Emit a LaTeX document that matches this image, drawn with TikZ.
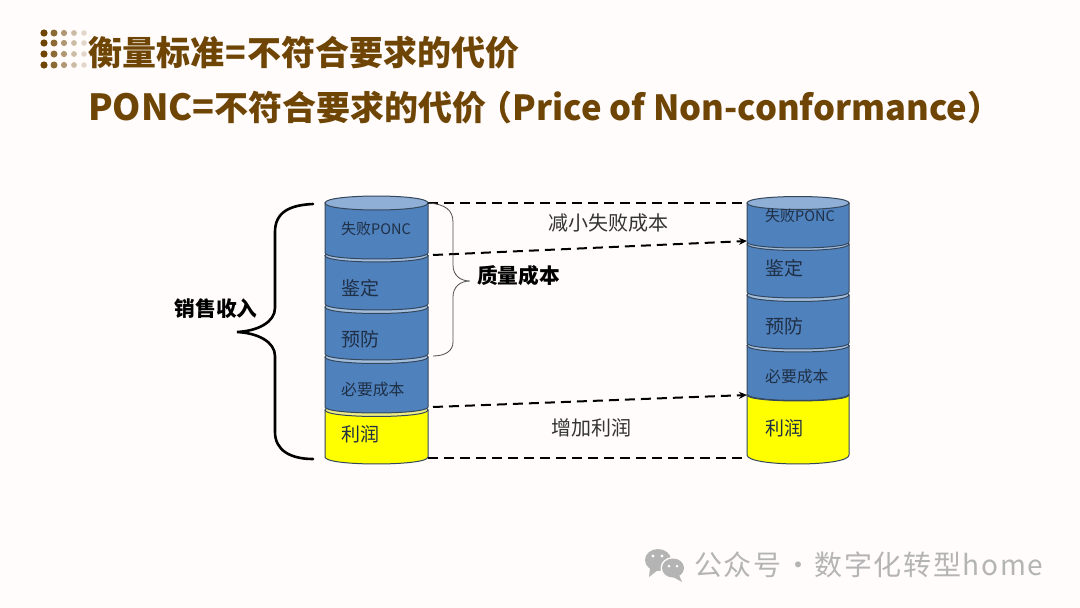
\documentclass[tikz,border=0pt]{standalone}
\usepackage{fontspec}
\setmainfont{Noto Sans CJK SC}
\newfontfamily\wmfont[LetterSpace=6]{Noto Sans CJK SC}
\usetikzlibrary{arrows.meta}
\definecolor{bgc}{HTML}{FFFCFB}
\definecolor{ttl}{HTML}{6F4505}
\definecolor{blu}{HTML}{4F81BD}
\definecolor{blul}{HTML}{A3BEDD}
\definecolor{blut}{HTML}{8FAFD6}
\definecolor{yel}{HTML}{FFFF00}
\definecolor{yell}{HTML}{EDED85}
\definecolor{edgec}{HTML}{34475C}
\definecolor{lbl}{HTML}{1F2F45}
\definecolor{wm}{HTML}{B4B4B4}
\newcommand{\fs}[1]{\fontsize{#1}{#1}\selectfont}
% name, x1, x2, top, bottom, ry top, ry bottom, fill, top fill
\newcommand{\cylseg}[9]{%
  \path[draw=edgec,line width=1pt,fill=#8] (#2,#4) -- (#2,#5)
    .. controls (#2,{#5+1.33*#7}) and (#3,{#5+1.33*#7}) .. (#3,#5) -- (#3,#4) -- cycle;
  \path[draw=edgec,line width=1pt,fill=#9] (#2,#4)
    .. controls (#2,{#4-1.33*#6}) and (#3,{#4-1.33*#6}) .. (#3,#4)
    .. controls (#3,{#4+1.33*#6}) and (#2,{#4+1.33*#6}) .. (#2,#4) -- cycle;
  \node[segbox,minimum width={(#3-#2)*1pt},minimum height={(#5-#4)*1pt}] (#1) at ({(#2+#3)/2},{(#4+#5)/2}) {};%
}
\tikzset{
  segbox/.style={inner sep=0pt,outer sep=0pt},
  cyltext/.style={inner sep=0pt,anchor=west,text=lbl},
  plain/.style={inner sep=0pt,text=black!80},
  boldlabel/.style={inner sep=0pt,text=black,font=\bfseries\fs{20.7}},
  titletext/.style={inner sep=0pt,anchor=west,text=ttl,font=\bfseries\fs{34}},
  dashline/.style={draw=black,line width=2pt,dash pattern=on 10pt off 6pt},
  dasharrow/.style={dashline,-{Stealth[length=8pt,width=7pt]}},
  bigbrace/.style={draw=black,line width=2.6pt,line cap=round},
  thinbrace/.style={draw=black!70,line width=.8pt}
}
\begin{document}
\begin{tikzpicture}[x=1pt,y=-1pt]
\fill[bgc] (0,0) rectangle (1080,608);
\useasboundingbox (0,0) rectangle (1080,608);
% decorative dots
\foreach \cx/\r/\c in {44/3.6/100,54/3.5/80,64/3.1/55,74/2.9/35,84/2.8/20}
  \foreach \cy in {33,43,54,65}
    \fill[ttl!\c!bgc] (\cx,\cy) circle[radius=\r];
% titles
\node[titletext] (t1) at (88,53) {衡量标准\hspace{1.5pt}=\hspace{1.5pt}不符合要求的代价};
\node[titletext] (t2) at (88,108) {\fs{36}PONC=\fs{34}不符合要求的代价\hspace{-8pt}（\fs{34.6}Price of Non-conformance\fs{34}）};
% left cylinder (bottom to top)
\cylseg{la}{325}{428}{410}{457}{6.5}{7}{yel}{yell}
\cylseg{lb}{325}{428}{357}{407}{6.5}{6}{blu}{blul}
\cylseg{lc}{325}{428}{307}{354}{6.5}{6}{blu}{blul}
\cylseg{ld}{325}{428}{255.5}{304}{6.5}{6}{blu}{blul}
\cylseg{le}{325}{428}{203}{253}{7}{6}{blu}{blut}
% right cylinder
\cylseg{ra}{747}{849}{395}{455}{6}{9}{yel}{yel}
\cylseg{rb}{747}{849}{345.5}{394}{6.5}{6.5}{blu}{blul}
\cylseg{rc}{747}{849}{295}{343}{6.5}{6}{blu}{blul}
\cylseg{rd}{747}{849}{244}{292}{6.5}{6}{blu}{blul}
\cylseg{re}{747}{849}{203}{242}{6.5}{6}{blu}{blut}
% cylinder labels
\node[cyltext] (l1) at (341,229) {\fs{15}失败\fs{14.5}PONC};
\node[cyltext] (l2) at (341,288) {\fs{19}鉴定};
\node[cyltext] (l3) at (341,339) {\fs{19}预防};
\node[cyltext] (l4) at (341,390) {\fs{15.8}必要成本};
\node[cyltext] (l5) at (341,434) {\fs{19}利润};
\node[cyltext] (r1) at (765,216) {\fs{15}失败\fs{14.5}PONC};
\node[cyltext] (r2) at (765,268) {\fs{19}鉴定};
\node[cyltext] (r3) at (765,326) {\fs{19}预防};
\node[cyltext] (r4) at (765,377) {\fs{15.8}必要成本};
\node[cyltext] (r5) at (765,428) {\fs{19}利润};
% middle labels
\node[plain,font=\fs{20}] (m1) at (608,223) {减小失败成本};
\node[plain,font=\fs{20}] (m2) at (591,428) {增加利润};
\node[boldlabel] (q) at (518.5,276) {质量成本};
\node[boldlabel] (s) at (216,309) {销售收入};
% connector anchors
\coordinate (a2) at (433,255);
\coordinate (b2) at (747,241);
\coordinate (a3) at (433,407);
\coordinate (b3) at (747,395);
\coordinate (a4) at (428,458);
\coordinate (b4) at (747,458);
\coordinate (tipL) at (237,332);
\coordinate (tipQ) at (470,281);
\coordinate (bL1) at (313,204);
\coordinate (bL2) at (313,459);
\coordinate (bQ2) at (433,356);
% dashed connectors
\draw[dashline] (le.north east) -- (re.north west);
\draw[dasharrow] (a2) -- (b2);
\draw[dasharrow] (a3) -- (b3);
\draw[dashline] (a4) -- (b4);
% left brace
\draw[bigbrace] (bL1) .. controls (290,205) and (275,212) .. (275,232) -- (275,308)
  .. controls (275,322) and (258,331) .. (tipL)
  .. controls (258,333) and (275,342) .. (275,356) -- (275,432)
  .. controls (275,450) and (290,459) .. (bL2);
% thin brace
\draw[thinbrace] (le.north east) .. controls (445,204) and (453,210) .. (453,222) -- (453,265)
  .. controls (453,275) and (460,281) .. (tipQ)
  .. controls (460,281) and (453,287) .. (453,297) -- (453,342)
  .. controls (453,351) and (445,356) .. (bQ2);
% watermark
\fill[wm] (658,560) ellipse[x radius=13,y radius=11];
\fill[wm] (650,568) -- (649,577) -- (658,570) -- cycle;
\fill[bgc] (673,568) ellipse[x radius=12.5,y radius=11];
\fill[wm] (673,568) ellipse[x radius=11,y radius=9.5];
\fill[wm] (679,575) -- (682,582) -- (673,577) -- cycle;
\foreach \ex/\ey/\er in {653/556/1.7,662/556/1.7,669/566/1.5,677/566/1.5}
  \fill[bgc] (\ex,\ey) circle[radius=\er];
\node[inner sep=0pt,anchor=west,text=wm,font=\wmfont\fs{28}] (w) at (694,565) {公众号\hspace{-5.5pt} · \hspace{-5.5pt}数字化转型home};
\end{tikzpicture}
\end{document}
